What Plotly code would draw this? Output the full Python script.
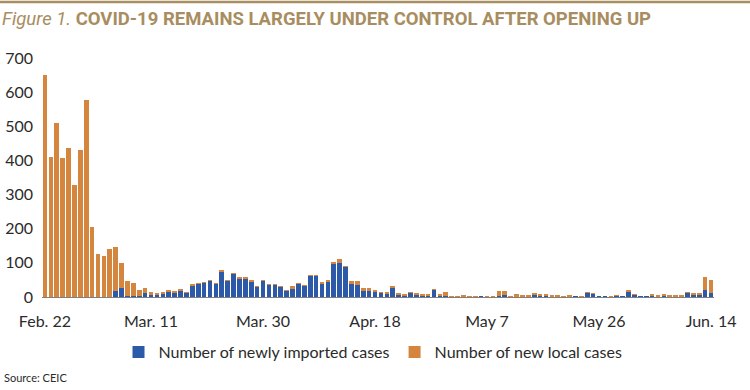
import pandas as pd
import plotly.graph_objects as go

# ---- data ----
start_date = "2020-02-22"
end_date = "2020-06-14"
dates = pd.date_range(start_date, end_date, freq="D")

imported = [0, 0, 0, 0, 0, 0, 0, 0, 0, 0,
            0, 0, 18, 25, 3, 3, 2, 12, 7, 7,
            9, 17, 14, 20, 13, 35, 39, 41, 47, 40,
            76, 48, 68, 55, 55, 46, 31, 48, 36, 36,
            30, 19, 26, 40, 33, 62, 62, 40, 44, 98,
            100, 88, 37, 36, 18, 17, 15, 12, 9, 25,
            7, 5, 12, 5, 3, 4, 22, 4, 3, 1,
            1, 2, 1, 1, 1, 1, 1, 3, 7, 1,
            1, 2, 2, 6, 3, 5, 2, 2, 1, 2,
            1, 1, 13, 9, 1, 1, 1, 4, 1, 17,
            6, 1, 1, 4, 2, 4, 2, 2, 2, 13,
            8, 5, 21, 12]

local = [651, 411, 511, 408, 436, 329, 430, 576, 204, 126,
         121, 140, 127, 76, 43, 38, 18, 13, 9, 3,
         3, 4, 3, 2, 1, 1, 1, 1, 1, 1,
         2, 1, 1, 1, 1, 1, 1, 1, 1, 1,
         1, 1, 5, 1, 1, 2, 2, 2, 3, 2,
         10, 1, 10, 11, 8, 9, 3, 1, 3, 6,
         3, 2, 1, 8, 3, 3, 1, 2, 11, 1,
         1, 2, 1, 1, 0, 1, 1, 14, 12, 1,
         8, 3, 3, 4, 3, 4, 5, 3, 1, 2,
         0, 1, 1, 1, 0, 0, 1, 1, 0, 1,
         1, 0, 0, 2, 1, 2, 1, 1, 1, 1,
         1, 8, 37, 39]

tick_dates = ["2020-02-22", "2020-03-11", "2020-03-30", "2020-04-18",
              "2020-05-07", "2020-05-26", "2020-06-14"]
tick_labels = ["Feb. 22", "Mar. 11", "Mar. 30", "Apr. 18",
               "May 7", "May 26", "Jun. 14"]
y_ticks = [0, 100, 200, 300, 400, 500, 600, 700]

series_names = ["Number of newly imported cases", "Number of new local cases"]

# ---- styling ----
BLUE = "#2C59A8"
ORANGE = "#D4863F"
TAN = "#A88D60"
TEXT = "#2b2b2b"
FONT = "Lato"

W, H = 750, 390
ML, MR, MT, MB = 42, 36, 58, 93
plot_w = W - ML - MR
plot_h = H - MT - MB


def px_to_paper_x(px):
    return (px - ML) / plot_w


def px_to_paper_y(py):
    return (H - MB - py) / plot_h


fig = go.Figure()
fig.add_trace(go.Bar(x=dates, y=imported, name=series_names[0],
                     marker=dict(color=BLUE, line=dict(width=0))))
fig.add_trace(go.Bar(x=dates, y=local, name=series_names[1],
                     marker=dict(color=ORANGE, line=dict(width=0))))

fig.update_layout(
    width=W, height=H,
    margin=dict(l=ML, r=MR, t=MT, b=MB, autoexpand=False),
    barmode="stack",
    bargap=0.22,
    plot_bgcolor="white",
    paper_bgcolor="white",
    font=dict(family=FONT, size=16, color=TEXT),
    showlegend=True,
    legend=dict(orientation="h", x=px_to_paper_x(373), xanchor="center",
                y=px_to_paper_y(352), yanchor="middle",
                traceorder="normal", font=dict(size=16, color=TEXT),
                itemwidth=30, bgcolor="rgba(0,0,0,0)"),
    title=dict(
        text=("<i>Figure 1.</i> <b>COVID-19 REMAINS LARGELY UNDER CONTROL "
              "AFTER OPENING UP</b>"),
        x=2 / W, xanchor="left", xref="container",
        y=1 - 19 / H, yanchor="middle", yref="container",
        font=dict(family="Roboto", size=18.5, color=TAN),
    ),
)

fig.update_xaxes(
    type="date",
    range=["2020-02-21 12:00", "2020-06-14 12:00"],
    tickmode="array", tickvals=tick_dates, ticktext=tick_labels,
    ticks="", showgrid=False, zeroline=False,
    showline=True, linecolor="#7f7f7f", linewidth=1,
    tickfont=dict(size=16, color=TEXT),
    ticklabelstandoff=10,
)
fig.update_yaxes(
    range=[0, 700],
    tickmode="array", tickvals=y_ticks,
    ticks="", showgrid=False, zeroline=False, showline=False,
    tickfont=dict(size=16, color=TEXT),
    ticklabelstandoff=8,
)

# top rule
fig.add_shape(type="line", xref="paper", yref="paper",
              x0=px_to_paper_x(0), x1=px_to_paper_x(W),
              y0=px_to_paper_y(2), y1=px_to_paper_y(2),
              line=dict(color=TAN, width=2.5))

# source note
fig.add_annotation(text="Source: CEIC", xref="paper", yref="paper",
                   x=px_to_paper_x(2), y=px_to_paper_y(377),
                   xanchor="left", yanchor="middle", showarrow=False,
                   font=dict(size=11, color=TEXT, family=FONT))

fig.write_html(
    "out.html",
    config={"displayModeBar": False},
    post_script=("document.body.style.margin='0';"
                 "document.body.style.overflow='hidden';"),
)
